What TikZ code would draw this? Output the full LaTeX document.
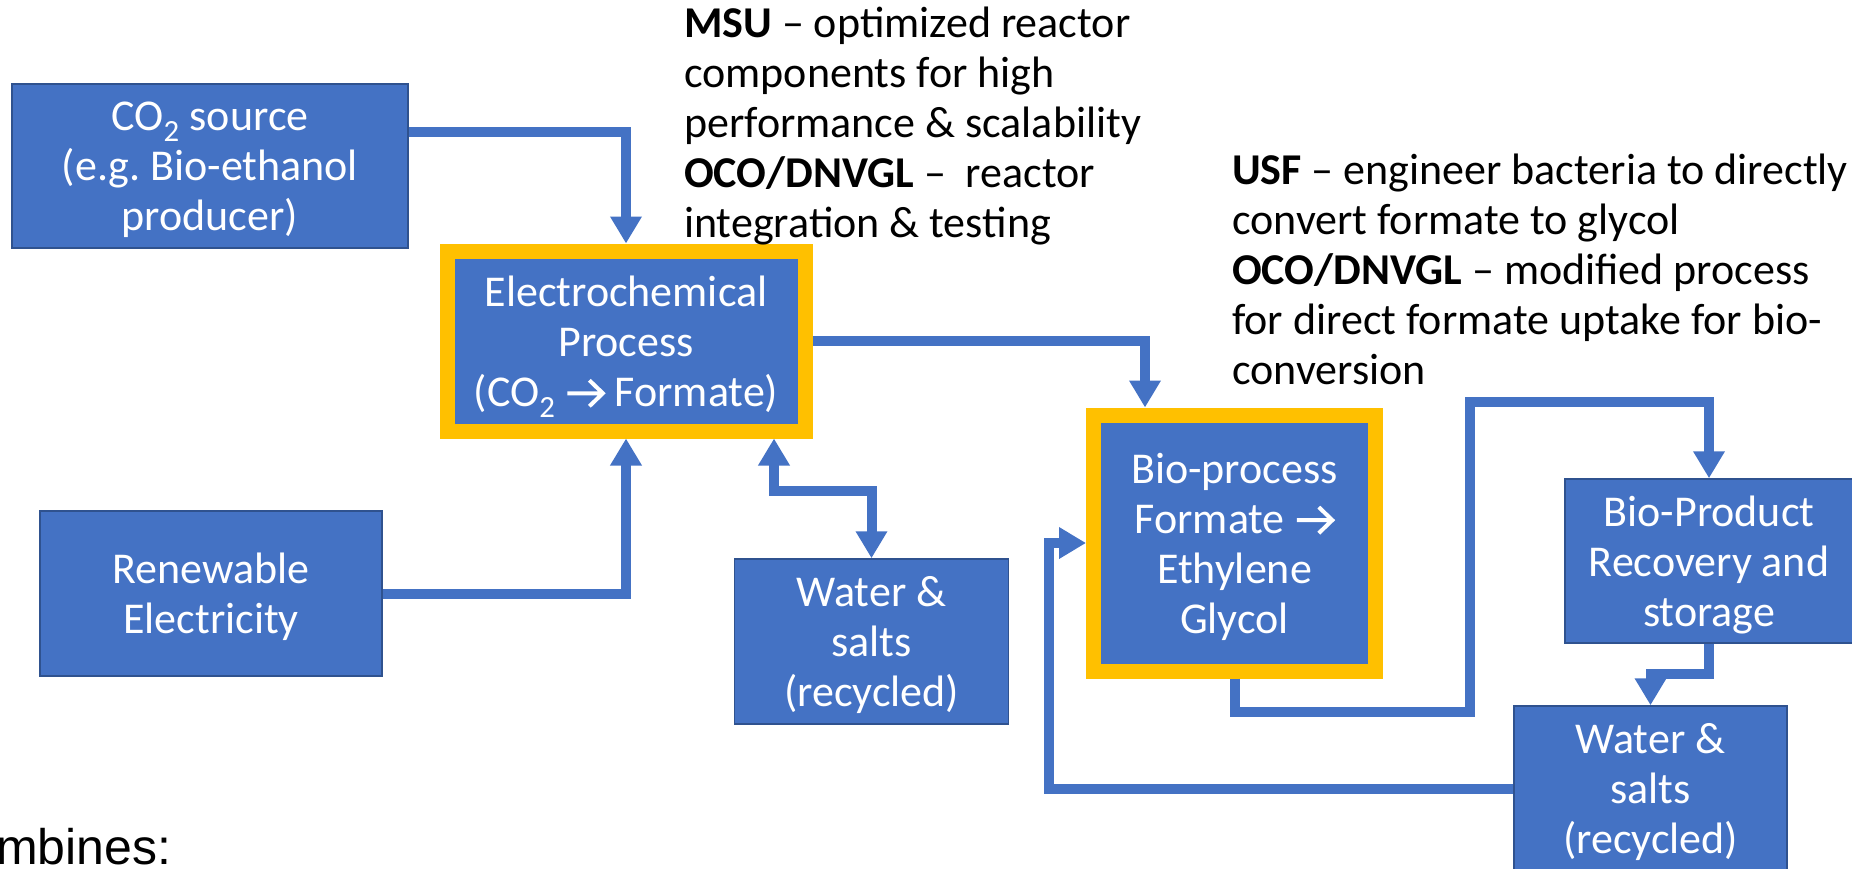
\documentclass[tikz,border=0pt]{standalone}
\usepackage{fontspec}
\setmainfont{Carlito}
\newfontfamily\arialfont{Liberation Sans}
\usetikzlibrary{arrows.meta}
\definecolor{boxblue}{HTML}{4472C4}
\definecolor{boxedge}{HTML}{2F528F}
\definecolor{framegold}{HTML}{FFC000}
\newcommand{\arr}{\tikz[x=1pt, y=1pt, baseline=0pt]
    \draw[white, line width=4pt] (0,13) -- (35,13) (22,26) -- (35.5,13) -- (22,0);}
\frenchspacing

\begin{document}
\begin{tikzpicture}[x=1pt, y=-1pt,
        >={Triangle[length=27pt, width=30pt]},
        box/.style={fill=boxblue, draw=boxedge, line width=1.5pt, text=white, inner sep=0pt,
            align=center, font=\fontsize{44}{50}\selectfont, text depth=0pt},
        framed/.style={box, draw=framegold, line width=15pt},
        flow/.style={draw=boxblue, line width=10pt, ->},
        note/.style={anchor=base west, align=left, inner sep=0pt, font=\fontsize{44}{50}\selectfont}]
    \useasboundingbox (0,0) rectangle (1852,868);

    \node[box, minimum width=396pt, minimum height=164pt] (co2) at (210,166)
        {CO\textsubscript{2} source\\(e.g. Bio-ethanol\\producer)};
    \node[box, minimum width=342pt, minimum height=165pt] (renew) at (211,593.5)
        {Renewable\\Electricity};
    \node[framed, minimum width=358pt, minimum height=180pt] (electro) at (626,341)
        {Electrochemical\\Process\\(CO\textsubscript{2} \arr{} Formate)};
    \node[box, minimum width=274pt, minimum height=165pt] (water1) at (871.5,641.5)
        {Water \&\\salts\\(recycled)};
    \node[framed, minimum width=282pt, minimum height=256pt] (bio) at (1234.5,543)
        {Bio-process\\Formate \arr\\Ethylene\\Glycol};
    \node[box, minimum width=288pt, minimum height=164pt] (bioprod) at (1709,561)
        {Bio-Product\\Recovery and\\storage};
    \node[box, minimum width=273pt, minimum height=165pt] (water2) at (1650.5,788.5)
        {Water \&\\salts\\(recycled)};

    % anotaciones
    \node[note] (msu) at (684,237)
        {\textbf{MSU} -- optimized reactor\\components for high\\performance \& scalability\\\textbf{OCO/DNVGL} --~ reactor\\integration \& testing};
    \node[note] (usf) at (1232,384)
        {\textbf{USF} -- engineer bacteria to directly\\convert formate to glycol\\\textbf{OCO/DNVGL} -- modified process\\for direct formate uptake for bio-\\conversion};
    \node[anchor=base west, inner sep=0pt, font=\arialfont\fontsize{50}{60}\selectfont] (comb) at (-4,864) {mbines:};

    % flechas
    \draw[flow] ([yshift=34pt]co2.east) -| (electro.north);
    \draw[flow] (renew.east) -| (electro.south);
    \draw[flow, <->] ([xshift=148pt]electro.south) -- ++(0,52) -| (water1.north);
    \draw[flow] (electro.east) -| ([xshift=-89.5pt]bio.north);
    \draw[flow] (bio.south) |- ++(235.5,33) -- ++(0,-310) -| (bioprod.north);
    \draw[flow] (bioprod.south) -- ++(0,30) -| (water2.north);
    \draw[flow] (water2.west) -| ([xshift=-37pt]bio.west) -- (bio.west);
\end{tikzpicture}
\end{document}
